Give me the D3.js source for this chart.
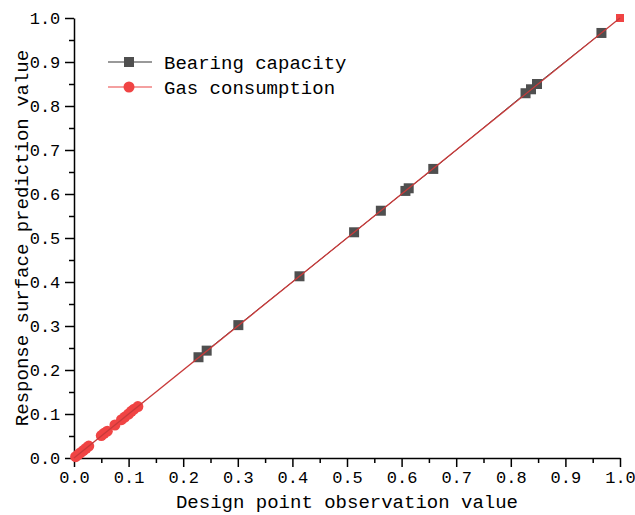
<!DOCTYPE html>
<html>
<head>
<meta charset="utf-8">
<script src="https://cdn.jsdelivr.net/npm/d3@7"></script>
<style>
body { margin: 0; background: white; }
.axis path, .axis line { stroke: black; stroke-width: 1.5; }
.axis text { font-family: "Liberation Mono", monospace; font-size: 17px; fill: black; }
text { font-family: "Liberation Mono", monospace; }
</style>
</head>
<body>
<script>
// bearing capacity: observed vs predicted
const bearingObs  = [0.228, 0.243, 0.301, 0.413, 0.513, 0.562, 0.607, 0.613, 0.658, 0.827, 0.837, 0.848, 0.966];
const bearingPred = [0.229, 0.244, 0.302, 0.413, 0.513, 0.562, 0.607, 0.613, 0.657, 0.829, 0.838, 0.850, 0.966];
// gas consumption: observed vs predicted
const gasObs  = [0.003, 0.008, 0.012, 0.017, 0.022, 0.027, 0.050, 0.055, 0.061, 0.075, 0.087, 0.093, 0.100, 0.105, 0.110, 0.117];
const gasPred = [0.003, 0.008, 0.012, 0.017, 0.022, 0.027, 0.051, 0.056, 0.061, 0.075, 0.087, 0.093, 0.100, 0.106, 0.111, 0.117];
const refLine = [0, 1];
const ticks = [0, 0.1, 0.2, 0.3, 0.4, 0.5, 0.6, 0.7, 0.8, 0.9, 1.0];
const minorTicks = d3.range(0.05, 1, 0.1);

const svg = d3.select("body").append("svg")
  .attr("width", 635).attr("height", 515);

const margin = {top: 18, right: 15, bottom: 57, left: 74};
const width = 635 - margin.left - margin.right;
const height = 515 - margin.top - margin.bottom;
const g = svg.append("g").attr("transform", `translate(${margin.left}, ${margin.top})`);

const x = d3.scaleLinear().domain([0, 1]).range([0, width]);
const y = d3.scaleLinear().domain([0, 1]).range([height, 0]);

const red = "#f04444", gray = "#4f4f4f";

// minor ticks
g.append("g").attr("class", "axis")
 .attr("transform", `translate(0, ${height})`)
 .call(d3.axisBottom(x).tickValues(minorTicks).tickSize(5).tickFormat(""))
 .select(".domain").remove();
g.append("g").attr("class", "axis")
 .call(d3.axisLeft(y).tickValues(minorTicks).tickSize(5).tickFormat(""))
 .select(".domain").remove();

// major
g.append("g").attr("class", "axis")
 .attr("transform", `translate(0, ${height})`)
 .call(d3.axisBottom(x).tickValues(ticks).tickSize(9).tickSizeOuter(0).tickFormat(d3.format(".1f")))
 .selectAll("text").attr("dy", "0.75em");
g.append("g").attr("class", "axis")
 .call(d3.axisLeft(y).tickValues(ticks).tickSize(9).tickSizeOuter(0).tickFormat(d3.format(".1f")))
 .selectAll("text").attr("dx", "-0.1em");

// lines
const line = d3.line().x(d => x(d[0])).y(d => y(d[1]));
g.append("path").datum(d3.zip(bearingObs, bearingPred))
 .attr("fill", "none").attr("stroke", gray).attr("stroke-width", 1).attr("d", line);

// markers
g.selectAll(".sq").data(d3.zip(bearingObs, bearingPred)).join("rect")
 .attr("x", d => x(d[0]) - 5).attr("y", d => y(d[1]) - 5)
 .attr("width", 10).attr("height", 10).attr("fill", gray);
g.selectAll(".ci").data(d3.zip(gasObs, gasPred)).join("circle")
 .attr("cx", d => x(d[0])).attr("cy", d => y(d[1])).attr("r", 5.5).attr("fill", red);
g.append("rect")
 .attr("x", x(refLine[1]) - 4).attr("y", y(refLine[1]) - 4)
 .attr("width", 8).attr("height", 8).attr("fill", red);
g.append("path").datum(d3.zip(refLine, refLine))
 .attr("fill", "none").attr("stroke", "#c83a3a").attr("stroke-width", 1.3).attr("d", line);

// legend
const legend = [
  {name: "Bearing capacity", color: gray, shape: "square", lineColor: "#777"},
  {name: "Gas consumption", color: red, shape: "circle", lineColor: "#f08080"}
];
const lg = svg.append("g").attr("transform", "translate(108, 62)");
legend.forEach((d, i) => {
  const row = lg.append("g").attr("transform", `translate(0, ${i * 25})`);
  row.append("line").attr("x1", 0).attr("x2", 44).attr("stroke", d.lineColor).attr("stroke-width", 1.5);
  if (d.shape === "square")
    row.append("rect").attr("x", 16).attr("y", -5).attr("width", 10).attr("height", 10).attr("fill", d.color);
  else
    row.append("circle").attr("cx", 21).attr("r", 5.5).attr("fill", d.color);
  row.append("text").attr("x", 56).attr("y", 0).attr("dy", "0.35em")
    .attr("font-size", 19).text(d.name);
});

// axis titles
svg.append("text").attr("x", margin.left + width / 2).attr("y", 508)
  .attr("text-anchor", "middle").attr("font-size", 19).text("Design point observation value");
svg.append("text").attr("transform", `translate(28, ${margin.top + height / 2}) rotate(-90)`)
  .attr("text-anchor", "middle").attr("font-size", 19).text("Response surface prediction value");
</script>
</body>
</html>
